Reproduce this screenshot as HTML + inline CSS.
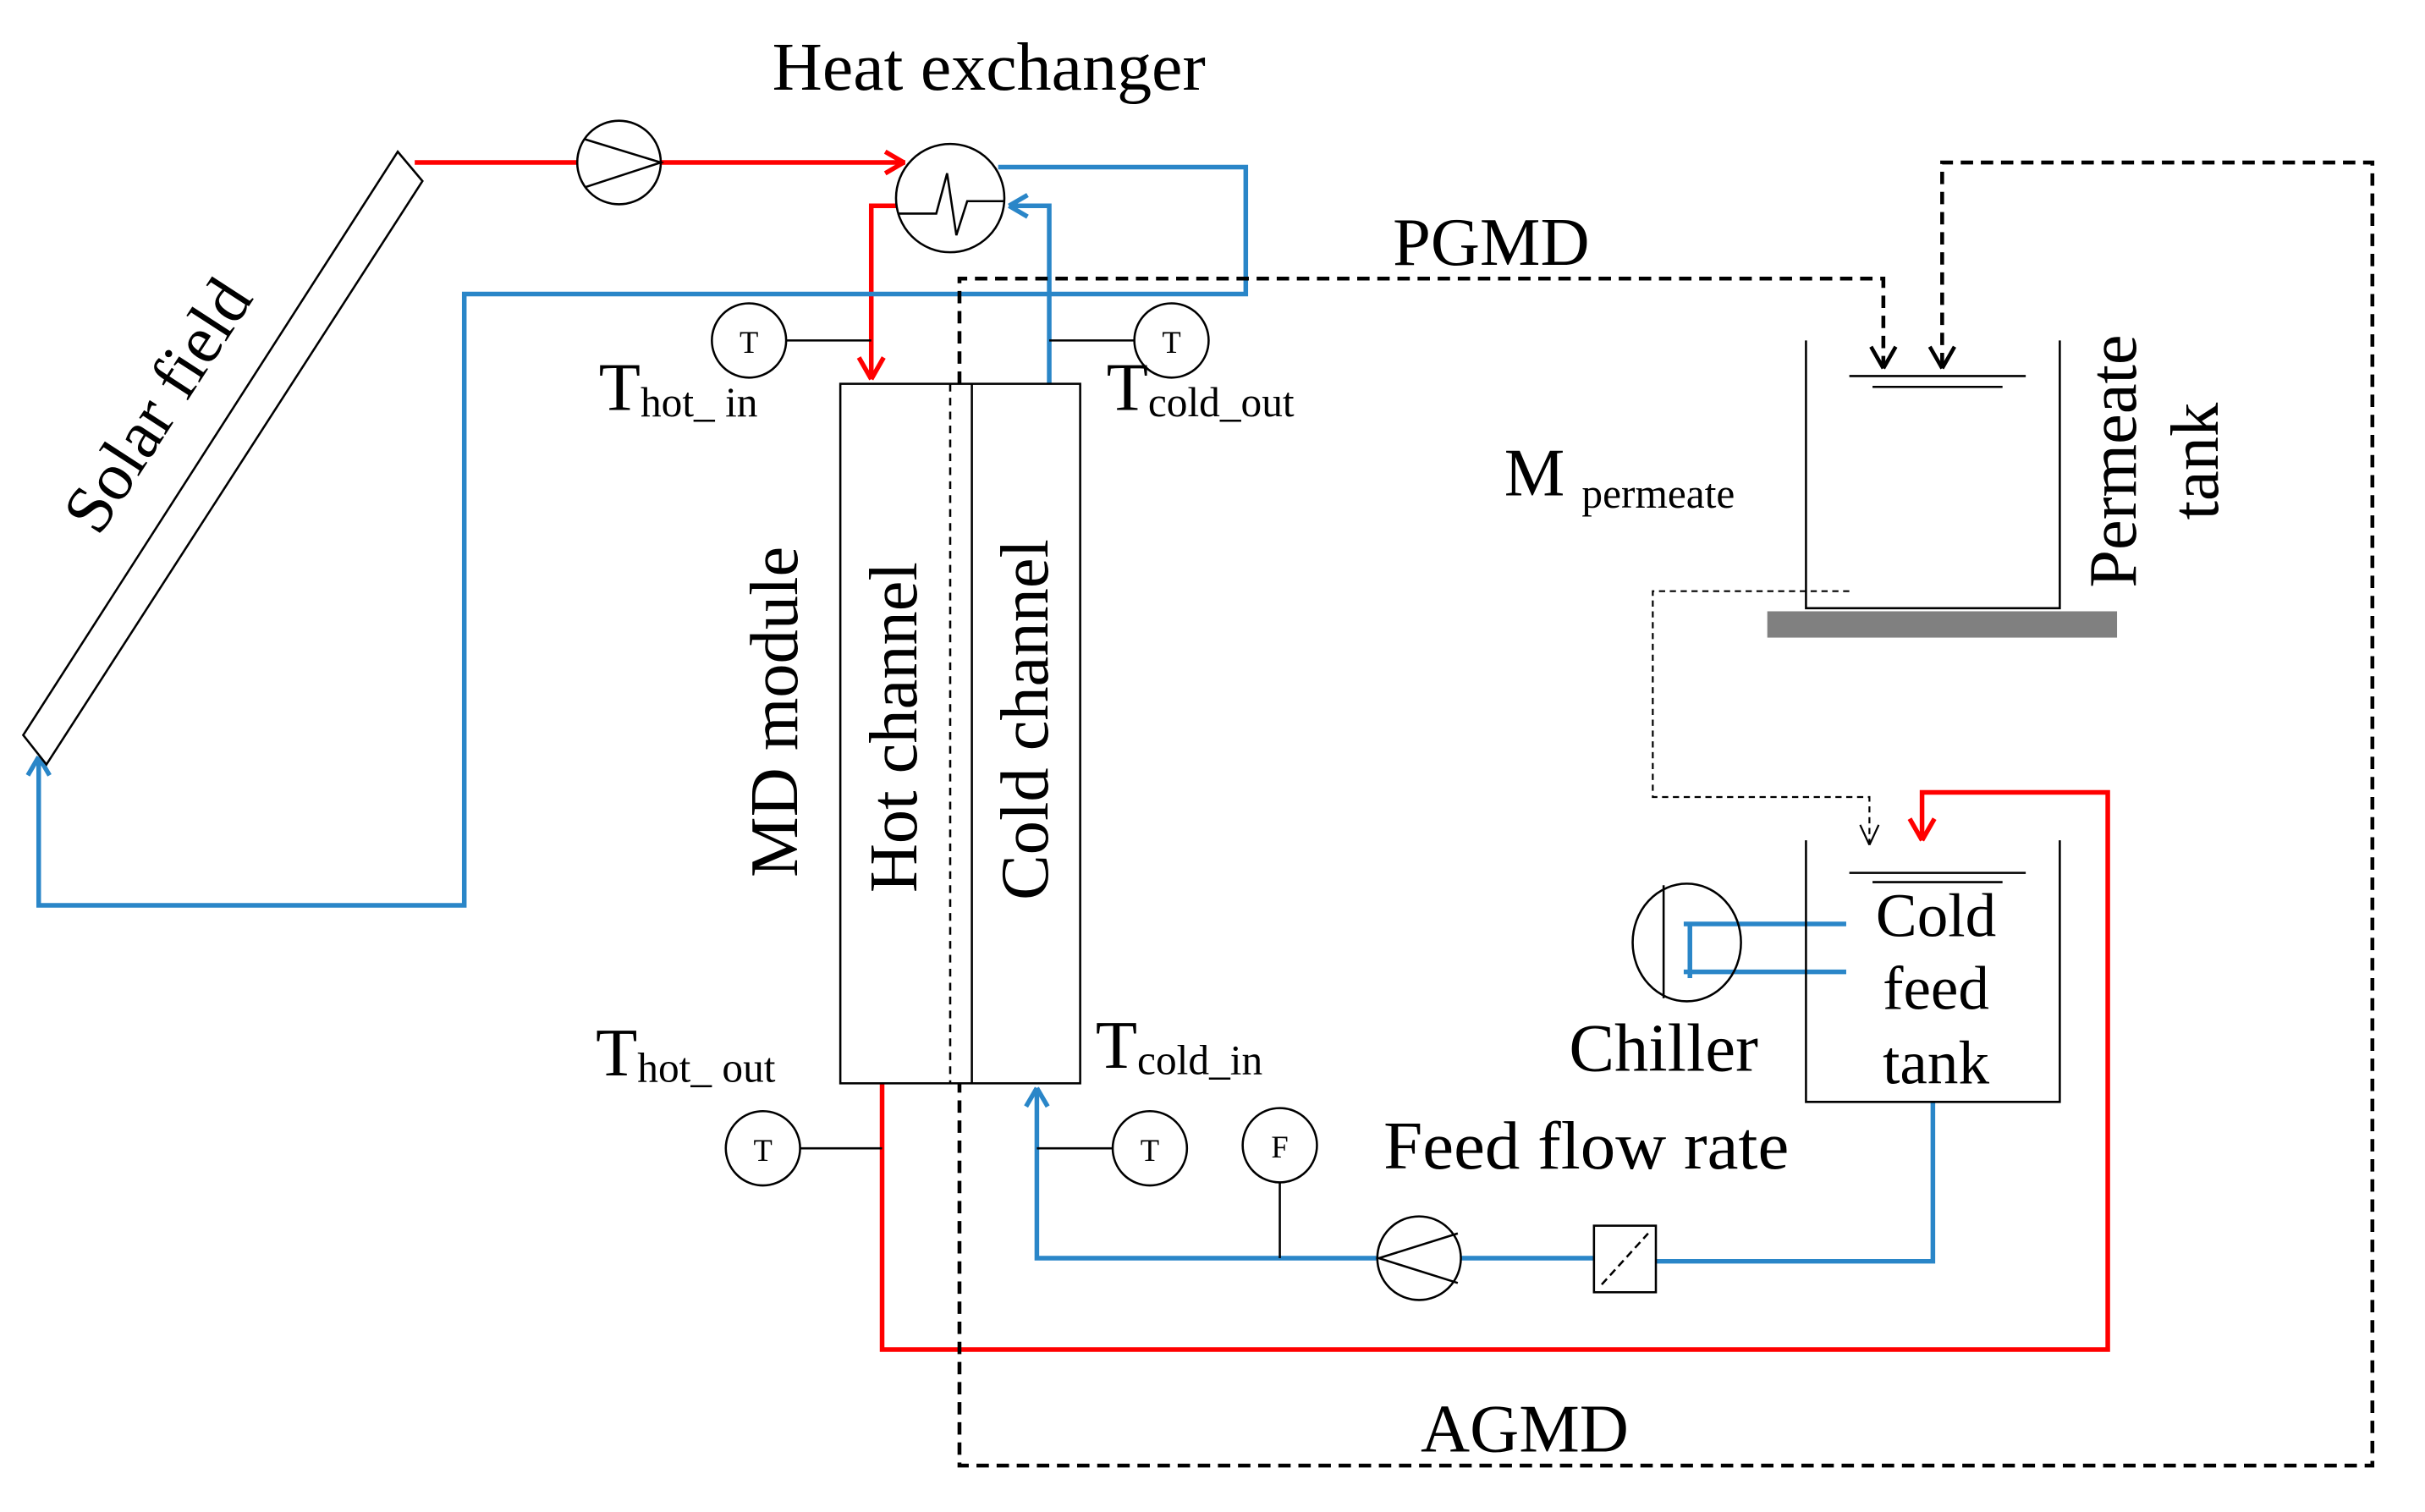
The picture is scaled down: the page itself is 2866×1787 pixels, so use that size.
<!DOCTYPE html>
<html><head><meta charset="utf-8"><style>
html,body{margin:0;padding:0;background:#fff;}
svg{display:block;}
text{font-family:"Liberation Serif",serif;fill:#000;}
</style></head><body>
<svg width="2866" height="1787" viewBox="0 0 1567 977" preserveAspectRatio="none" xmlns="http://www.w3.org/2000/svg">
<g fill="none" stroke-width="3">
<path d="M268,105 H373 M427,105 H585" stroke="#f00"/>
<path d="M584,105 l-12,-7 M584,105 l-12,7" stroke="#f00"/>
<path d="M582,133 H563 V244" stroke="#f00"/>
<path d="M563,245 l-8,-14 M563,245 l8,-14" stroke="#f00"/>
<path d="M570,700 V872 H1362 V512 H1242 V542" stroke="#f00"/>
<path d="M1242,543 l-8,-14 M1242,543 l8,-14" stroke="#f00"/>
<path d="M645,108 H805 V190 H300 V585 H25 V490" stroke="#2a86c8"/>
<path d="M25,489 l-7,12 M25,489 l7,12" stroke="#2a86c8"/>
<path d="M678,248 V133 H653" stroke="#2a86c8"/>
<path d="M652,133 l12,-7 M652,133 l12,7" stroke="#2a86c8"/>
<path d="M1249,712 V815 H1070 M1030,813 H944 M890,813 H670 V704" stroke="#2a86c8"/>
<path d="M670,703 l-7,12 M670,703 l7,12" stroke="#2a86c8"/>
<path d="M1088,597 H1193 M1088,628 H1193 M1092,597 V632" stroke="#2a86c8"/>
</g>
<g fill="none" stroke="#000" stroke-width="1.4">
<polygon points="257,98 273,117 30,494 15,475"/>
<circle cx="400" cy="105" r="27" fill="#fff"/>
<path d="M378,90 L427,105 L378,121"/>
<circle cx="614" cy="128" r="35" fill="#fff"/>
<path d="M580,138 H605 L612,112 L618,152 L625,130 H649"/>
<path d="M508,220 H563 M678,220 H733 M517,742 H570 M670,742 H719 M827,764 V813"/>
<circle cx="484" cy="220" r="24" fill="#fff"/>
<circle cx="757" cy="220" r="24" fill="#fff"/>
<circle cx="493" cy="742" r="24" fill="#fff"/>
<circle cx="743" cy="742" r="24" fill="#fff"/>
<circle cx="827" cy="740" r="24" fill="#fff"/>
<rect x="543" y="248" width="155" height="452"/>
<path d="M628,248 V700"/>
<path d="M614,248 V700" stroke-dasharray="5,4"/>
<path d="M1167,220 V393 H1331 V220 M1195,243 H1309 M1210,250 H1294"/>
<rect x="1142" y="395" width="226" height="17" fill="#808080" stroke="none"/>
<path d="M1167,543 V712 H1331 V543 M1195,564 H1309 M1210,570 H1294"/>
<ellipse cx="1090" cy="609" rx="35" ry="38"/>
<path d="M1075,572 V645"/>
<circle cx="917" cy="813" r="27" fill="#fff"/>
<path d="M942,797 L891,813 L942,829"/>
<rect x="1030" y="792" width="40" height="43" fill="#fff"/>
<path d="M1035,830 L1065,797" stroke-dasharray="5,3"/>
<path d="M1195,382 H1068 V515 H1208 V545" stroke-width="1.2" stroke-dasharray="4,3"/>
<path d="M1208,546 l-6,-13 M1208,546 l6,-13" stroke-width="1.2"/>
</g>
<g fill="none" stroke="#000" stroke-width="2.5" stroke-dasharray="8,5">
<path d="M620,248 V180 H1217 V236"/>
<path d="M1255,236 V105 H1533 V947 H620 V700"/>
</g>
<g fill="none" stroke="#000" stroke-width="2.5">
<path d="M1217,238 l-8,-14 M1217,238 l8,-14 M1255,238 l-8,-14 M1255,238 l8,-14"/>
</g>
<g font-size="44">
<text x="499" y="58" textLength="280" lengthAdjust="spacingAndGlyphs">Heat exchanger</text>
<text x="900" y="171">PGMD</text>
<text x="918" y="938">AGMD</text>
<text x="894" y="755" textLength="262" lengthAdjust="spacingAndGlyphs">Feed flow rate</text>
<text x="1075" y="692" text-anchor="middle">Chiller</text>
<text x="1251" y="605" text-anchor="middle" font-size="40">Cold</text>
<text x="1251" y="652" text-anchor="middle" font-size="40">feed</text>
<text x="1251" y="700" text-anchor="middle" font-size="40">tank</text>
<text x="387" y="265">T<tspan font-size="27" dy="4">hot_ in</tspan></text>
<text x="715" y="265">T<tspan font-size="27" dy="4">cold_out</tspan></text>
<text x="385" y="695">T<tspan font-size="27" dy="4">hot_ out</tspan></text>
<text x="708" y="690">T<tspan font-size="27" dy="4">cold_in</tspan></text>
<text x="972" y="320">M <tspan font-size="27" dy="8">permeate</tspan></text>
<text transform="translate(515,460) rotate(-90)" text-anchor="middle">MD module</text>
<text transform="translate(592,470) rotate(-90)" text-anchor="middle">Hot channel</text>
<text transform="translate(677,465) rotate(-90)" text-anchor="middle">Cold channel</text>
<text transform="translate(1380,298) rotate(-90)" text-anchor="middle">Permeate</text>
<text transform="translate(1433,298) rotate(-90)" text-anchor="middle">tank</text>
<text transform="translate(114,270) rotate(-57)" text-anchor="middle">Solar field</text>
</g>
<g font-size="20" text-anchor="middle">
<text x="484" y="228">T</text>
<text x="757" y="228">T</text>
<text x="493" y="750">T</text>
<text x="743" y="750">T</text>
<text x="827" y="748">F</text>
</g>
</svg>
</body></html>
